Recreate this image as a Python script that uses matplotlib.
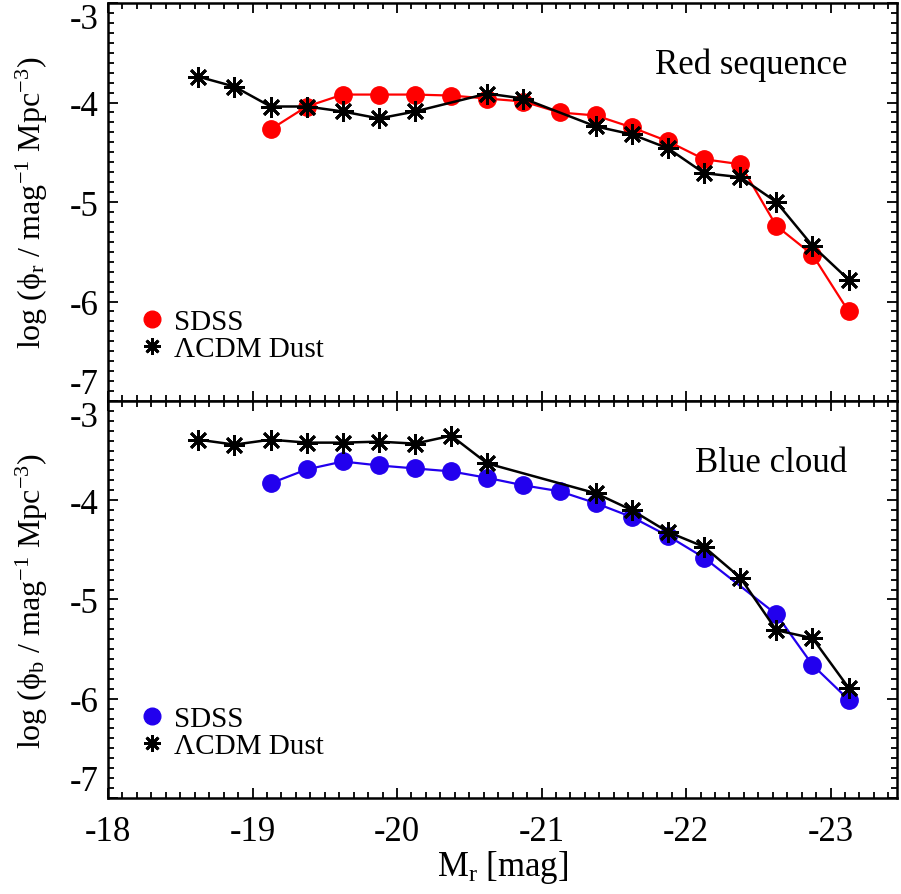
import matplotlib
matplotlib.use('Agg')
import matplotlib.pyplot as plt
from matplotlib.lines import Line2D
from matplotlib.ticker import MultipleLocator

plt.rcParams['font.family'] = ['Liberation Serif', 'DejaVu Serif']
plt.rcParams['mathtext.fontset'] = 'custom'
plt.rcParams['mathtext.rm'] = 'Liberation Serif'
plt.rcParams['mathtext.it'] = 'Liberation Serif:italic'
plt.rcParams['axes.unicode_minus'] = False

# ----- data -----
mag_red_sdss = [-19.125, -19.375, -19.625, -19.875, -20.125, -20.375, -20.625, -20.875,
                -21.125, -21.375, -21.625, -21.875, -22.125, -22.375, -22.625, -22.875, -23.125]
phi_red_sdss = [-4.27, -4.04, -3.92, -3.92, -3.92, -3.93, -3.96, -3.99,
                -4.10, -4.13, -4.25, -4.39, -4.57, -4.62, -5.24, -5.53, -6.10]

mag_red_model = [-18.625, -18.875, -19.125, -19.375, -19.625, -19.875, -20.125, -20.625,
                 -20.875, -21.375, -21.625, -21.875, -22.125, -22.375, -22.625, -22.875, -23.125]
phi_red_model = [-3.74, -3.84, -4.04, -4.04, -4.09, -4.16, -4.09, -3.91,
                 -3.96, -4.24, -4.32, -4.46, -4.71, -4.75, -5.00, -5.44, -5.78]

mag_blue_sdss = [-19.125, -19.375, -19.625, -19.875, -20.125, -20.375, -20.625, -20.875,
                 -21.125, -21.375, -21.625, -21.875, -22.125, -22.625, -22.875, -23.125]
phi_blue_sdss = [-3.83, -3.69, -3.61, -3.65, -3.68, -3.71, -3.775, -3.85,
                 -3.91, -4.03, -4.17, -4.36, -4.58, -5.15, -5.66, -6.01]

mag_blue_model = [-18.625, -18.875, -19.125, -19.375, -19.625, -19.875, -20.125, -20.375,
                  -20.625, -21.375, -21.625, -21.875, -22.125, -22.375, -22.625, -22.875, -23.125]
phi_blue_model = [-3.39, -3.44, -3.39, -3.42, -3.42, -3.41, -3.43, -3.35,
                  -3.63, -3.93, -4.10, -4.32, -4.47, -4.78, -5.31, -5.39, -5.89]

y_ticks = [-7, -6, -5, -4, -3]
x_ticks = [-18, -19, -20, -21, -22, -23]

red = '#ff0000'
blue = '#2200ee'
star = (8, 2, 0)
tick_fs = 25
label_fs = 23

fig = plt.figure(figsize=(9.01, 8.95), dpi=100)
ax_top = fig.add_axes([0.1199, 0.5508, 0.8757, 0.4447])
ax_bot = fig.add_axes([0.1199, 0.1073, 0.8757, 0.4436])


def style_axes(ax, show_x):
    ax.set_xlim(-18, -23.46)
    ax.set_ylim(-7, -3)
    ax.set_xticks(x_ticks)
    ax.set_yticks(y_ticks)
    ax.xaxis.set_minor_locator(MultipleLocator(0.1))
    ax.yaxis.set_minor_locator(MultipleLocator(0.1))
    ax.tick_params(which='both', direction='in', top=True, right=True, width=1.3)
    ax.tick_params(which='major', length=7)
    ax.tick_params(which='minor', length=4)
    ax.tick_params(axis='y', labelsize=tick_fs, pad=7)
    ax.tick_params(axis='x', labelsize=tick_fs, pad=12, labelbottom=show_x)
    for sp in ax.spines.values():
        sp.set_linewidth(1.8)
    labels = ax.get_yticklabels()
    labels[0].set_va('bottom')
    labels[-1].set_va('top')


def draw_panel(ax, mag_s, phi_s, col, mag_m, phi_m, title, sub):
    ax.plot(mag_s, phi_s, '-', color=col, lw=1.6, marker='o', ms=12.5, mec=col, mfc=col)
    ax.plot(mag_m, phi_m, '-', color='black', lw=1.8, marker=star, ms=15, mew=2.0)
    handles = [Line2D([], [], ls='none', marker='o', color=col, ms=12),
               Line2D([], [], ls='none', marker=star, color='black', ms=12, mew=2.0)]
    ax.legend(handles, ['SDSS', 'ΛCDM Dust'], loc='center left',
              bbox_to_anchor=(0.043, 0.165), frameon=False, fontsize=21,
              handlelength=0.7, handletextpad=0.4, labelspacing=0.02, borderpad=0,
              borderaxespad=0)
    ax.text(0.937, 0.824, title, transform=ax.transAxes, ha='right', va='baseline',
            fontsize=25)
    ax.set_ylabel('log (ϕ$_{\\rm ' + sub + '}$ / mag$^{-1}$ Mpc$^{-3}$)',
                  fontsize=label_fs)
    ax.yaxis.set_label_coords(-0.074, 0.5)


style_axes(ax_top, False)
style_axes(ax_bot, True)
draw_panel(ax_top, mag_red_sdss, phi_red_sdss, red, mag_red_model, phi_red_model,
           'Red sequence', 'r')
draw_panel(ax_bot, mag_blue_sdss, phi_blue_sdss, blue, mag_blue_model, phi_blue_model,
           'Blue cloud', 'b')
ax_bot.set_xlabel('M$_{\\rm r}$ [mag]', fontsize=25, labelpad=0)

fig.savefig('out.png', dpi=100)
